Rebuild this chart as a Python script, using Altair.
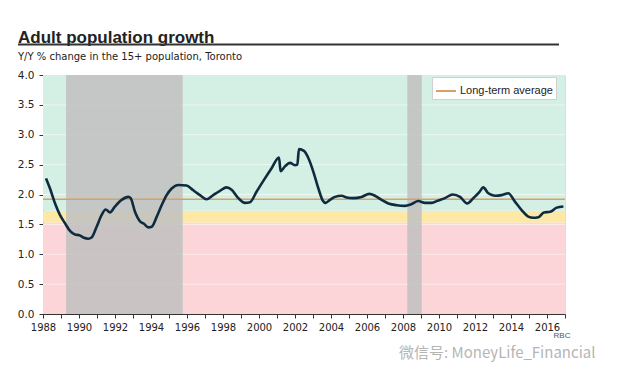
import altair as alt
import pandas as pd

# ---------------- data ----------------
years = [1988.17, 1988.39, 1988.67, 1988.94, 1989.22, 1989.5, 1989.78, 1990.02, 1990.24, 1990.52,
         1990.7, 1990.98, 1991.26, 1991.48, 1991.72, 1992.0, 1992.37, 1992.74, 1992.87, 1993.11,
         1993.39, 1993.61, 1993.85, 1994.04, 1994.32, 1994.59, 1994.87, 1995.15, 1995.52, 1995.98,
         1996.35, 1996.72, 1997.09, 1997.46, 1997.83, 1998.2, 1998.48, 1998.85, 1999.22, 1999.5,
         1999.87, 2000.33, 2000.7, 2001.11, 2001.2, 2001.44, 2001.72, 2002.0, 2002.13, 2002.22,
         2002.5, 2002.74, 2003.02, 2003.3, 2003.54, 2003.7, 2003.94, 2004.22, 2004.59, 2004.87,
         2005.24, 2005.7, 2006.13, 2006.44, 2006.81, 2007.19, 2007.65, 2008.11, 2008.48, 2008.85,
         2009.22, 2009.59, 2009.96, 2010.33, 2010.76, 2011.17, 2011.57, 2011.91, 2012.24, 2012.46,
         2012.74, 2013.11, 2013.48, 2013.85, 2014.22, 2014.59, 2014.96, 2015.24, 2015.52, 2015.83,
         2016.17, 2016.54, 2016.91]
growth = [2.27, 2.10, 1.85, 1.66, 1.52, 1.39, 1.33, 1.32, 1.28, 1.26,
          1.28, 1.46, 1.66, 1.75, 1.70, 1.80, 1.91, 1.96, 1.94, 1.71,
          1.55, 1.51, 1.45, 1.46, 1.63, 1.82, 1.99, 2.10, 2.16, 2.15,
          2.07, 1.99, 1.92, 1.99, 2.06, 2.12, 2.08, 1.94, 1.86, 1.87,
          2.05, 2.27, 2.44, 2.62, 2.39, 2.47, 2.53, 2.49, 2.50, 2.76,
          2.73, 2.61, 2.38, 2.10, 1.90, 1.86, 1.91, 1.96, 1.98, 1.95,
          1.94, 1.96, 2.01, 1.98, 1.91, 1.85, 1.82, 1.81, 1.84, 1.89,
          1.86, 1.86, 1.90, 1.94, 2.00, 1.96, 1.85, 1.94, 2.04, 2.12,
          2.02, 1.98, 1.99, 2.02, 1.88, 1.74, 1.63, 1.61, 1.62, 1.70,
          1.71, 1.78, 1.80]

band_names = ["low", "mid", "high"]
band_lo = [0.0, 1.53, 1.73]
band_hi = [1.53, 1.73, 4.0]
band_colors = ["#fbd5d7", "#fde8a6", "#d4efe3"]

recession_start = [1989.28, 2008.24]
recession_end = [1995.76, 2009.04]

long_term_average = [1.92]
lta_label = ["Long-term average"]

grid_values = [0.5, 1.0, 1.5, 2.0, 2.5, 3.0, 3.5]
y_ticks = [0.0, 0.5, 1.0, 1.5, 2.0, 2.5, 3.0, 3.5, 4.0]
x_ticks = list(range(1988, 2018))
x_domain = [1988, 2017]

title_text = ["Adult population growth"]
subtitle_text = ["Y/Y % change in the 15+ population, Toronto"]
source_text = ["RBC"]
watermark_text = ["微信号: MoneyLife_Financial"]

# ---------------- frames ----------------
line_df = pd.DataFrame({"year": years, "growth": growth})
band_df = pd.DataFrame({"band": band_names, "lo": band_lo, "hi": band_hi,
                        "x0": [x_domain[0]] * 3, "x1": [x_domain[1]] * 3})
rec_df = pd.DataFrame({"start": recession_start, "end": recession_end})
lta_df = pd.DataFrame({"value": long_term_average, "series": lta_label})
grid_df = pd.DataFrame({"g": grid_values})

W, H = 522, 239
FONT = "DejaVu Sans"

x_scale = alt.Scale(domain=x_domain, nice=False, zero=False)
y_scale = alt.Scale(domain=[0, 4], nice=False, zero=True)

x_axis = alt.Axis(values=x_ticks, format="d",
                  labelExpr="datum.value % 2 === 0 ? datum.label : ''",
                  tickSize=4, tickColor="#333", domainColor="#333",
                  labelFont=FONT, labelFontSize=10, labelColor="#222",
                  labelPadding=4, labelFlush=False, labelOverlap=False,
                  grid=False, title=None)
y_axis = alt.Axis(values=y_ticks, format=".1f", tickSize=4, tickColor="#333",
                  domainColor="#333", labelFont=FONT, labelFontSize=10.5,
                  labelColor="#222", labelPadding=5, grid=False, title=None)

bands = alt.Chart(band_df).mark_rect().encode(
    x=alt.X("x0:Q", scale=x_scale, axis=x_axis),
    x2="x1:Q",
    y=alt.Y("lo:Q", scale=y_scale, axis=y_axis),
    y2="hi:Q",
    fill=alt.Fill("band:N", scale=alt.Scale(domain=band_names, range=band_colors), legend=None),
)

grid = alt.Chart(grid_df).mark_rule(color="white", opacity=0.55, strokeWidth=1).encode(
    y=alt.Y("g:Q", scale=y_scale, axis=y_axis)
)

recessions = alt.Chart(rec_df).mark_rect(color="#c2c2c0", opacity=0.88).encode(
    x=alt.X("start:Q", scale=x_scale, axis=x_axis),
    x2="end:Q",
    y=alt.value(0),
    y2=alt.value(H),
)

lta = alt.Chart(lta_df).mark_rule(strokeWidth=1.5).encode(
    y=alt.Y("value:Q", scale=y_scale, axis=y_axis),
    color=alt.Color("series:N", scale=alt.Scale(domain=lta_label, range=["#d9a066"]),
                    legend=alt.Legend(orient="none", legendX=389, legendY=2, title=None,
                                      fillColor="white", strokeColor="#d0d0d0",
                                      padding=3, symbolType="stroke", symbolSize=400,
                                      symbolStrokeWidth=2, labelFont="Liberation Sans",
                                      labelFontSize=11, labelColor="#222", labelOffset=3)),
)

line = alt.Chart(line_df).mark_line(color="#0f2c3f", strokeWidth=2.6, interpolate="monotone").encode(
    x=alt.X("year:Q", scale=x_scale, axis=x_axis),
    y=alt.Y("growth:Q", scale=y_scale, axis=y_axis),
)

title = alt.Chart(pd.DataFrame({"t": title_text})).mark_text(
    align="left", baseline="alphabetic", font="Liberation Sans", fontSize=17,
    fontWeight="bold", color="#222"
).encode(x=alt.value(-25), y=alt.value(-32.5), text="t:N")

underline = alt.Chart(pd.DataFrame({"t": title_text})).mark_rule(
    color="#333", strokeWidth=2
).encode(x=alt.value(-25), x2=alt.value(516), y=alt.value(-30.5))

subtitle = alt.Chart(pd.DataFrame({"t": subtitle_text})).mark_text(
    align="left", baseline="alphabetic", font=FONT, fontSize=10, color="#222"
).encode(x=alt.value(-25), y=alt.value(-15.5), text="t:N")

source = alt.Chart(pd.DataFrame({"t": source_text})).mark_text(
    align="center", baseline="middle", font="Liberation Sans", fontSize=8, color="#555"
).encode(x=alt.value(519), y=alt.value(260.5), text="t:N")

watermark = alt.Chart(pd.DataFrame({"t": watermark_text})).mark_text(
    align="left", baseline="middle", font="Noto Sans CJK SC", fontSize=15, color="#b5b5b5"
).encode(x=alt.value(356), y=alt.value(277.5), text="t:N")

chart = alt.layer(
    bands, grid, recessions, lta, line, title, underline, subtitle, source, watermark
).properties(
    width=W, height=H,
    padding={"left": 35, "top": 67, "right": 47, "bottom": 56},
    autosize=alt.AutoSizeParams(type="none"),
).configure_view(stroke=None).configure(background="white")

chart.save("out.html", embed_options={"renderer": "svg", "actions": False})
